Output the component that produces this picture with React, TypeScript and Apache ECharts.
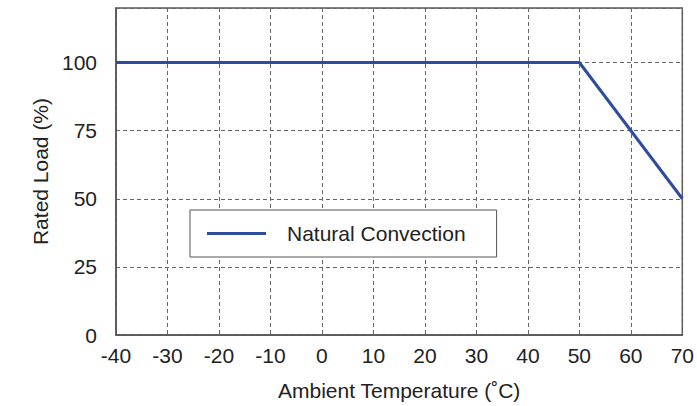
import React, { useEffect, useRef } from "react";
import * as echarts from "echarts";

const temperatures = [-40, 50, 70];
const ratedLoad = [100, 100, 50];
const seriesName = "Natural Convection";
const xTicks = [-40, -30, -20, -10, 0, 10, 20, 30, 40, 50, 60, 70];
const yTicks = [0, 25, 50, 75, 100];

export default function App() {
  const ref = useRef<HTMLDivElement>(null);
  useEffect(() => {
    if (!ref.current) return;
    const chart = echarts.init(ref.current, null, { renderer: "svg" });
    const font = "Liberation Sans, Arial, sans-serif";
    const lineColor = "#2f4d9e";
    chart.setOption({
      animation: false,
      backgroundColor: "#ffffff",
      textStyle: { fontFamily: font },
      grid: {
        left: 116,
        right: 13,
        top: 8,
        bottom: 71,
        show: true,
        borderColor: "#555555",
        borderWidth: 1.5,
        containLabel: false,
      },
      legend: {
        left: 190,
        top: 210,
        orient: "horizontal",
        data: [{ name: seriesName, icon: "rect" }],
        itemWidth: 59,
        itemHeight: 3,
        itemStyle: { color: lineColor },
        padding: [13, 31, 13, 17],
        borderColor: "#555555",
        borderWidth: 1,
        backgroundColor: "#ffffff",
        textStyle: {
          fontFamily: font,
          fontSize: 21,
          color: "#222222",
          padding: [0, 0, 0, 16],
        },
      },
      xAxis: {
        type: "value",
        min: xTicks[0],
        max: xTicks[xTicks.length - 1],
        interval: 10,
        name: "Ambient Temperature (˚C)",
        nameLocation: "middle",
        nameGap: 45,
        nameTextStyle: { fontFamily: font, fontSize: 21, color: "#222222" },
        axisLine: { show: true, onZero: false, lineStyle: { color: "#555555", width: 1.5 } },
        axisTick: { show: false },
        axisLabel: {
          fontFamily: font,
          fontSize: 21,
          color: "#222222",
          margin: 10,
        },
        splitLine: {
          show: true,
          lineStyle: { color: "#666666", type: [4, 3], width: 1 },
        },
      },
      yAxis: {
        type: "value",
        min: 0,
        max: 120,
        interval: 25,
        name: "Rated Load (%)",
        nameLocation: "middle",
        nameGap: 54,
        nameRotate: 90,
        nameTextStyle: { fontFamily: font, fontSize: 21, color: "#222222" },
        axisLine: { show: true, onZero: false, lineStyle: { color: "#555555", width: 1.5 } },
        axisTick: { show: false },
        axisLabel: {
          fontFamily: font,
          fontSize: 21,
          color: "#222222",
          margin: 19,
          showMaxLabel: false,
          formatter: (v: number) => (yTicks.includes(v) ? String(v) : ""),
        },
        splitLine: {
          show: true,
          lineStyle: { color: "#666666", type: [4, 3], width: 1 },
        },
      },
      series: [
        {
          name: seriesName,
          type: "line",
          data: temperatures.map((t, i) => [t, ratedLoad[i]]),
          symbol: "none",
          lineStyle: { color: lineColor, width: 3 },
          itemStyle: { color: lineColor },
          z: 5,
        },
      ],
    });
    return () => chart.dispose();
  }, []);
  return (
    <div
      ref={ref}
      style={{ position: "absolute", left: 0, top: 0, width: 697, height: 406 }}
    />
  );
}
